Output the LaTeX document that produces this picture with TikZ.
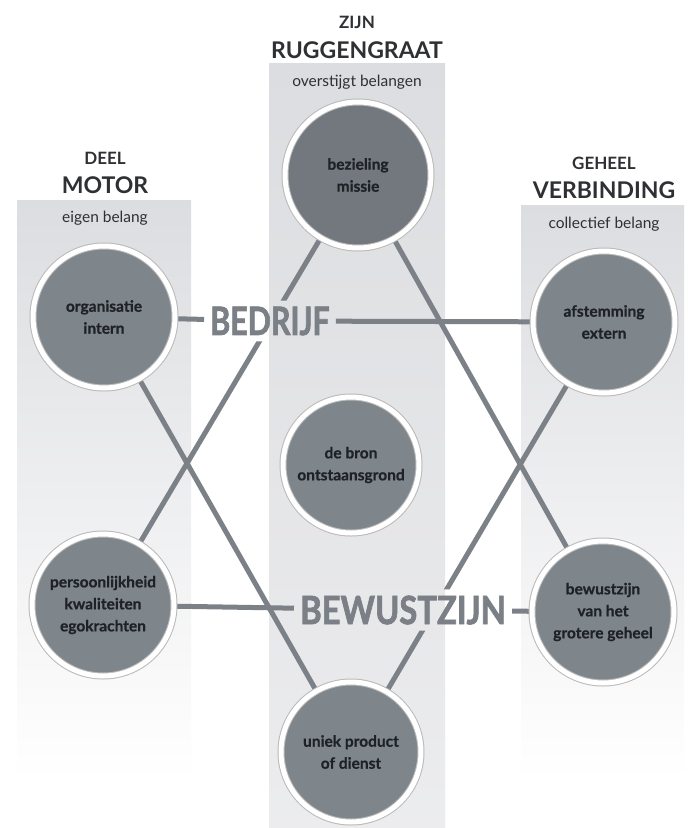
\documentclass[tikz,border=0pt]{standalone}
\usepackage{fontspec}
\setmainfont{Lato}
\newfontfamily\keyfont[FakeBold=2]{Lato}
\newfontfamily\blobfont[FakeBold=0.6]{Lato}
\usepackage{graphicx}

\definecolor{band}{HTML}{DCDDE0}
\definecolor{blobgray}{HTML}{7F868B}
\definecolor{blobdark}{HTML}{72787D}
\definecolor{linegray}{HTML}{7B8187}
\definecolor{headtext}{HTML}{2E3034}
\definecolor{blobtext}{HTML}{1E2125}
\definecolor{keygray}{HTML}{7A8086}

\pgfdeclarelayer{bg}
\pgfsetlayers{bg,main}

\begin{document}
\begin{tikzpicture}[x=1pt,y=-1pt,
    blob/.style={circle,fill=blobgray,draw=gray!55,line width=1pt,double=white,
        double distance=5pt,minimum size=142pt,inner sep=0pt,align=center,
        font=\blobfont\bfseries\fontsize{15.5}{22}\selectfont,text=blobtext},
    head/.style={font=\bfseries\fontsize{17}{20}\selectfont,text=headtext},
    bighead/.style={font=\bfseries\fontsize{23}{26}\selectfont,text=headtext},
    sub/.style={font=\fontsize{15.5}{18}\selectfont,text=headtext},
    tie/.style={draw=linegray,line width=5pt},
    keyword/.style={font=\keyfont\bfseries\fontsize{39}{40}\selectfont,text=keygray,inner sep=6pt}
]

    \useasboundingbox (0,0) rectangle (694,828);

    % bands
    \begin{pgfonlayer}{bg}
        \fill[white] (0,0) rectangle (694,828);
        \shade[top color=band,middle color=band,bottom color=white] (17,200) rectangle (191,780);
        \shade[top color=band,bottom color=band!55] (269,63) rectangle (445,828);
        \shade[top color=band,middle color=band,bottom color=white] (521,205) rectangle (684,780);
    \end{pgfonlayer}

    % headings
    \node[head] (zijn) at (357,22) {ZIJN};
    \node[bighead] (rug) at (357,50) {RUGGENGRAAT};
    \node[sub] (over) at (357,82) {overstijgt belangen};

    \node[head] (deel) at (105,158) {DEEL};
    \node[bighead] (motor) at (105,185) {MOTOR};
    \node[sub] (eigen) at (105,218) {eigen belang};

    \node[head] (geheel) at (604,163) {GEHEEL};
    \node[bighead] (verb) at (604,190) {VERBINDING};
    \node[sub] (coll) at (604,224) {collectief belang};

    % circles
    \node[blob,fill=blobdark,minimum size=146pt] (top) at (358,175) {bezieling\\missie};
    \node[blob] (org) at (104,317) {organisatie\\intern};
    \node[blob] (afst) at (604,322) {afstemming\\extern};
    \node[blob,minimum size=136pt] (bron) at (351,465) {de bron\\ontstaansgrond};
    \node[blob] (pers) at (103,605) {persoonlijkheid\\kwaliteiten\\egokrachten};
    \node[blob] (bewz) at (603,612) {bewustzijn\\van het\\grotere geheel};
    \node[blob,minimum size=140pt] (uniek) at (351,752) {uniek product\\of dienst};

    % key words
    \node[keyword] (bedrijf) at (270,321) {\scalebox{0.78}[1]{BEDRIJF}};
    \node[keyword] (bewust) at (403,610) {\scalebox{0.84}[1]{BEWUSTZIJN}};

    % connectors
    \begin{pgfonlayer}{bg}
        \draw[tie] (org) -- (bedrijf) -- (afst);
        \draw[tie] (pers) -- (bewust) -- (bewz);
        \draw[tie] (top) -- (bewz);
        \draw[tie] (org) -- (uniek);
        \begin{scope}
            \clip (0,0) rectangle (694,828) (bedrijf.north east) rectangle (bedrijf.south west);
            \draw[tie] (top) -- (pers);
        \end{scope}
        \begin{scope}
            \clip (0,0) rectangle (694,828) (bewust.north east) rectangle (bewust.south west);
            \draw[tie] (afst) -- (uniek);
        \end{scope}
    \end{pgfonlayer}

\end{tikzpicture}
\end{document}
